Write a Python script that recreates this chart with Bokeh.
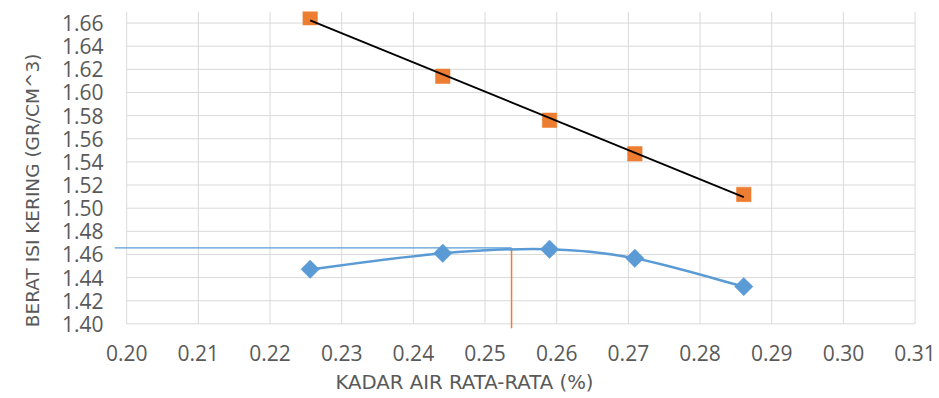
import numpy as np
from bokeh.plotting import figure
from bokeh.models import FixedTicker, NumeralTickFormatter, Title
from bokeh.embed import file_html
from bokeh.resources import INLINE

# ---- data ----
moisture = [0.2256, 0.2441, 0.2590, 0.2709, 0.2861]
dry_density = [1.4472, 1.4610, 1.4645, 1.4567, 1.4322]
zav_density = [1.6646, 1.6140, 1.5760, 1.5470, 1.5119]
omc = 0.2537
mdd = 1.4656
x_ticks = [0.20, 0.21, 0.22, 0.23, 0.24, 0.25, 0.26, 0.27, 0.28, 0.29, 0.30, 0.31]
y_ticks = [1.40, 1.42, 1.44, 1.46, 1.48, 1.50, 1.52, 1.54, 1.56, 1.58, 1.60, 1.62, 1.64, 1.66]
y_top = 1.67
x_title = "KADAR AIR RATA-RATA (%)"
y_title = "BERAT ISI KERING (GR/CM^3)"

BLUE = "#5B9BD5"
ORANGE = "#ED7D31"
GRID = "#D9D9D9"
TEXT = "#595959"

p = figure(width=939, height=398, output_backend="svg", toolbar_location=None,
           x_range=(0.1983, 0.3102), y_range=(1.396, 1.67),
           min_border_left=114, min_border_right=23, min_border_top=11, min_border_bottom=70)
p.xgrid.visible = False
p.ygrid.visible = False
p.outline_line_color = None
p.background_fill_color = "white"

# gridlines drawn over the plot area only
p.segment(x0=x_ticks, y0=[y_ticks[0]] * len(x_ticks), x1=x_ticks, y1=[y_top] * len(x_ticks),
          line_color=GRID, line_width=1)
p.segment(x0=[x_ticks[0]] * len(y_ticks), y0=y_ticks, x1=[x_ticks[-1]] * len(y_ticks), y1=y_ticks,
          line_color=GRID, line_width=1)

# reference lines for the maximum
p.segment(x0=[p.x_range.start], y0=[mdd], x1=[omc], y1=[mdd], line_color=BLUE, line_width=1.25)
p.segment(x0=[omc], y0=[mdd], x1=[omc], y1=[p.y_range.start], line_color=ORANGE, line_width=1.5)

# smoothed line through the dry density points (Catmull-Rom as Bezier)
xs = np.array(moisture)
ys = np.array(dry_density)
xp = np.concatenate([[xs[0]], xs, [xs[-1]]])
yp = np.concatenate([[ys[0]], ys, [ys[-1]]])
n = len(xs)
x0 = xs[:-1]; y0 = ys[:-1]; x1 = xs[1:]; y1 = ys[1:]
cx0 = x0 + (xp[2:n + 1] - xp[0:n - 1]) / 6.0
cy0 = y0 + (yp[2:n + 1] - yp[0:n - 1]) / 6.0
cx1 = x1 - (xp[3:n + 2] - xp[1:n]) / 6.0
cy1 = y1 - (yp[3:n + 2] - yp[1:n]) / 6.0
p.bezier(x0=x0, y0=y0, x1=x1, y1=y1, cx0=cx0, cy0=cy0, cx1=cx1, cy1=cy1,
         line_color=BLUE, line_width=2.5)

p.scatter(moisture, dry_density, marker="square", angle=np.pi / 4, size=13,
          fill_color=BLUE, line_color=BLUE, line_alpha=0.5, line_width=1)
p.scatter(moisture, zav_density, marker="square", size=14.5,
          fill_color=ORANGE, line_color=ORANGE, line_alpha=0.5, line_width=1)

# linear trendline of the zero-air-voids series
k, b = np.polyfit(moisture, zav_density, 1)
p.line([moisture[0], moisture[-1]], [k * moisture[0] + b, k * moisture[-1] + b],
       line_color="black", line_width=1.75)

# axes
for ax in (p.xaxis, p.yaxis):
    ax.axis_line_color = None
    ax.major_tick_out = 0
    ax.major_tick_in = 0
    ax.minor_tick_out = 0
    ax.minor_tick_in = 0
    ax.major_label_text_font = "Open Sans"
    ax.major_label_text_font_size = "21px"
    ax.major_label_text_color = TEXT
    ax.formatter = NumeralTickFormatter(format="0.00")
p.xaxis.ticker = FixedTicker(ticks=x_ticks)
p.yaxis.ticker = FixedTicker(ticks=y_ticks)
p.xaxis.major_label_standoff = 16
p.yaxis.major_label_standoff = 11

p.add_layout(Title(text=x_title, align="left", offset=221, standoff=10,
                   text_font="DejaVu Sans", text_font_style="normal",
                   text_font_size="19.7px", text_color=TEXT), "below")
p.add_layout(Title(text=y_title, align="left", offset=1.3, standoff=32,
                   text_font="DejaVu Sans", text_font_style="normal",
                   text_font_size="18.5px", text_color=TEXT), "left")

open("out.html", "w").write(file_html(p, INLINE))
